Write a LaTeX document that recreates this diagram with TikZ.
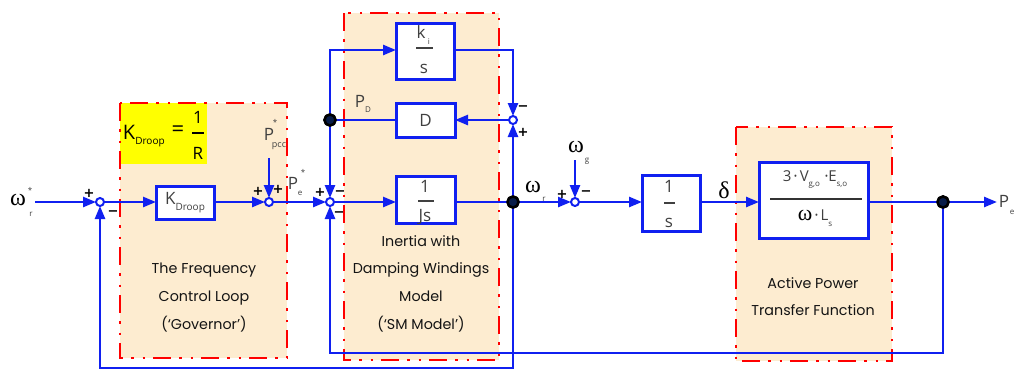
\documentclass[tikz,border=0pt]{standalone}
\usepackage{fontspec}
\setmainfont{Poppins}
\newfontfamily\labf{Open Sans}
\newfontfamily\grkf{Liberation Serif}
\newfontfamily\sgnf{DejaVu Sans}
\usetikzlibrary{arrows.meta,calc}
\definecolor{lineblue}{RGB}{16,32,240}
\definecolor{boxred}{RGB}{255,0,0}
\definecolor{regionfill}{RGB}{253,236,208}
\definecolor{hiyellow}{RGB}{255,255,0}
\definecolor{dotnavy}{RGB}{8,28,72}
\definecolor{labgray}{RGB}{64,64,64}
\definecolor{textdark}{RGB}{20,20,20}
\tikzset{
  regionfillst/.style={fill=regionfill},
  regionborder/.style={draw=boxred, line width=2.5pt, line cap=butt,
    dash pattern=on 18pt off 8pt on 2.5pt off 9pt on 2.5pt off 8pt},
  blk/.style={draw=lineblue, fill=white, line width=3pt, inner sep=0pt, outer sep=0pt},
  sumj/.style={circle, draw=lineblue, fill=white, line width=2pt, minimum size=8pt, inner sep=0pt, outer sep=0pt},
  tap/.style={circle, draw=black, fill=dotnavy, line width=2.5pt, minimum size=11pt, inner sep=0pt, outer sep=0pt},
  sig/.style={draw=lineblue, line width=2.5pt},
  arr/.style={sig, -{Triangle[length=13pt,width=10pt]}},
  lab/.style={text=labgray, font=\labf\fontsize{17}{17}\selectfont, inner sep=0pt},
  labsub/.style={text=labgray, font=\labf\fontsize{8}{8}\selectfont, inner sep=0pt},
  labsup/.style={text=labgray, font=\labf\fontsize{8}{8}\selectfont, inner sep=0pt},
  sgn/.style={font=\sgnf\bfseries\fontsize{13}{13}\selectfont, inner sep=0pt, text=black},
  desc/.style={font=\fontsize{14.3}{27.6}\selectfont, text=textdark, align=center, inner sep=0pt},
  greek/.style={font=\grkf\fontsize{24}{24}\selectfont, inner sep=0pt, text=black},
  fracline/.style={draw=labgray, line width=1.2pt},
}
\begin{document}
\begin{tikzpicture}[x=1pt,y=-1pt]
\useasboundingbox (0,0) rectangle (1019,370);
% regions
\path[regionfillst] (120,103) rectangle (287,358);
\fill[hiyellow] (120,103) rectangle (207,164);
\path[regionborder] (120,103) rectangle (287,358);
\path[regionfillst] (344,13) rectangle (499,360);
\path[regionborder] (344,13) rectangle (499,360);
\path[regionfillst] (736,127) rectangle (892,361);
\path[regionborder] (736,127) rectangle (892,361);

% K_Droop = 1/R
\node[text=black, font=\labf\fontsize{20}{20}\selectfont, inner sep=0pt] (kdk) at (129,132) {K};
\node[text=black, font=\labf\fontsize{10}{10}\selectfont, inner sep=0pt] (kdsub) at (150,142) {Droop};
\node[text=black, font=\labf\fontsize{22}{22}\selectfont, inner sep=0pt] (kdeq) at (178,131) {=};
\node[text=black, font=\labf\fontsize{17}{17}\selectfont, inner sep=0pt] (kdone) at (198,117) {1};
\node[text=black, font=\labf\fontsize{17}{17}\selectfont, inner sep=0pt] (kdr) at (198,153) {R};
\draw[black, line width=1.3pt] (192,133) -- (204,133);

% nodes
\node[sumj] (s1) at (100,202) {};
\node[blk, minimum width=58pt, minimum height=33pt] (kd) at (185,202.5)
  {\labf\color{labgray}\fontsize{17}{17}\selectfont K\raisebox{-6pt}{\fontsize{10}{10}\selectfont Droop}};
\node[sumj] (s2) at (269,202) {};
\node[sumj] (s3) at (330,202) {};
\node[blk, minimum width=58pt, minimum height=56pt] (ki) at (425,51) {};
\node[blk, minimum width=59pt, minimum height=34pt] (dd) at (425.5,120)
  {\labf\color{labgray}\fontsize{17}{17}\selectfont D};
\node[blk, minimum width=59pt, minimum height=47pt] (js) at (425.5,199.5) {};
\node[tap] (t1) at (330,120) {};
\node[sumj] (s4) at (513,120) {};
\node[tap] (t2) at (513,202) {};
\node[sumj] (s5) at (575,202) {};
\node[blk, minimum width=58pt, minimum height=56pt] (ig) at (671,203) {};
\node[blk, minimum width=109pt, minimum height=76pt] (tf) at (813.5,200) {};
\node[tap] (t3) at (943,202) {};
\coordinate (wrin) at (35,202);
\coordinate (pout) at (997,202);
\coordinate (ppcc) at (269,158);
\coordinate (wgin) at (575,160);
\coordinate (c3) at (330,353);
\coordinate (c1) at (100,368);
\coordinate (c4) at (330,50);

% connectors
\draw[arr] (wrin) -- (s1);
\draw[arr] (s1) -- (s1 -| kd.west);
\draw[arr] (kd.east |- s2) -- (s2);
\draw[arr] (ppcc) -- (s2);
\draw[arr] (s2) -- (s3);
\draw[arr] (s3) -- (s3 -| js.west);
\draw[sig] (js.east |- t2) -- (t2);
\draw[arr] (t2) -- (s5);
\draw[arr] (wgin) -- (s5);
\draw[arr] (s5) -- (s5 -| ig.west);
\draw[arr] (ig.east |- s5) -- (tf.west |- s5);
\draw[sig] (tf.east |- t3) -- (t3);
\draw[arr] (t3) -- (pout);
\draw[arr] (t3) |- (c3) -- (s3);
\draw[arr] (t2) -- (s4);
\draw[arr] (t2) |- (c1) -- (s1);
\draw[arr] (s4) -- (dd.east |- s4);
\draw[sig] (dd.west |- t1) -- (t1);
\draw[arr] (t1) -- (s3);
\draw[arr] (t1) -- (c4) -- (c4 -| ki.west);
\draw[arr] (ki.east |- c4) -| (s4);
% redraw taps on top
\node[tap] at (t1) {};
\node[tap] at (t2) {};
\node[tap] at (t3) {};

% block contents
\node[lab] (kik) at (421,32) {k};
\node[labsub] (kii) at (429,42) {i};
\draw[fracline] (416,48) -- (433,48);
\node[lab] (kis) at (424,69) {s};
\node[lab] (jsone) at (425,186) {1};
\draw[fracline] (418,201) -- (434,201);
\node[lab] (jsjs) at (425,217) {Js};
\node[lab] (igone) at (669,186) {1};
\draw[fracline] (664,203) -- (675,203);
\node[lab] (igs) at (669,223) {s};
\node[text=labgray, inner sep=0pt, font=\labf\fontsize{15}{15}\selectfont] (tfnum) at (815,180)
  {3\,{\fontsize{9}{9}\selectfont\raisebox{2pt}{•}}\,V\raisebox{-5pt}{\fontsize{8}{8}\selectfont g,o}\,\,{\fontsize{9}{9}\selectfont\raisebox{2pt}{•}}E\raisebox{-5pt}{\fontsize{8}{8}\selectfont s,o}};
\draw[draw=black!80, line width=1.3pt] (770,199) -- (862,199);
\node[text=labgray, inner sep=0pt, font=\labf\fontsize{15}{15}\selectfont] (tfden) at (815,218)
  {{\grkf\color{black}\fontsize{22}{22}\selectfont ω}\,{\fontsize{9}{9}\selectfont\raisebox{2pt}{•}}\,L\raisebox{-6pt}{\fontsize{8}{8}\selectfont s}};

% signal labels
\node[greek] (wr) at (18,200) {ω};
\node[labsup] at (30,190) {*};
\node[labsub] at (31,214) {r};
\node[lab] (pp) at (269,134) {P};
\node[labsup] at (275,122) {*};
\node[labsub, font=\labf\fontsize{9}{9}\selectfont] at (279,146) {pcc};
\node[lab] (pe) at (293,183) {P};
\node[labsub] at (300,193) {e};
\node[labsup] at (303,172) {*};
\node[lab] (pd) at (360,101) {P};
\node[labsub] at (368,110) {D};
\node[greek] (wrr) at (533,187) {ω};
\node[labsub] at (544,199) {r};
\node[greek] (wg) at (576,147) {ω};
\node[labsub] at (587,161) {g};
\node[greek] (dl) at (724,190) {δ};
\node[lab] (peo) at (1004,201) {P};
\node[labsub] at (1012,212) {e};

% signs
\node[sgn] at (89,193) {+};
\node[sgn] at (113,213) {−};
\node[sgn] at (258,191) {+};
\node[sgn] at (278,189) {+};
\node[sgn] at (320,192) {+};
\node[sgn] at (340,193) {−};
\node[sgn] at (339,214) {−};
\node[sgn] at (523,108) {−};
\node[sgn] at (523,132) {+};
\node[sgn] at (562,194) {+};
\node[sgn] at (586,193) {−};

% descriptions
\node[desc] (gov) at (204,297.5) {The Frequency\\Control Loop\\(‘Governor’)};
\node[desc] (smm) at (421,283.5) {Inertia with\\Damping Windings\\Model\\(‘SM Model’)};
\node[desc] (apt) at (813,296.5) {Active Power\\Transfer Function};
\end{tikzpicture}
\end{document}
